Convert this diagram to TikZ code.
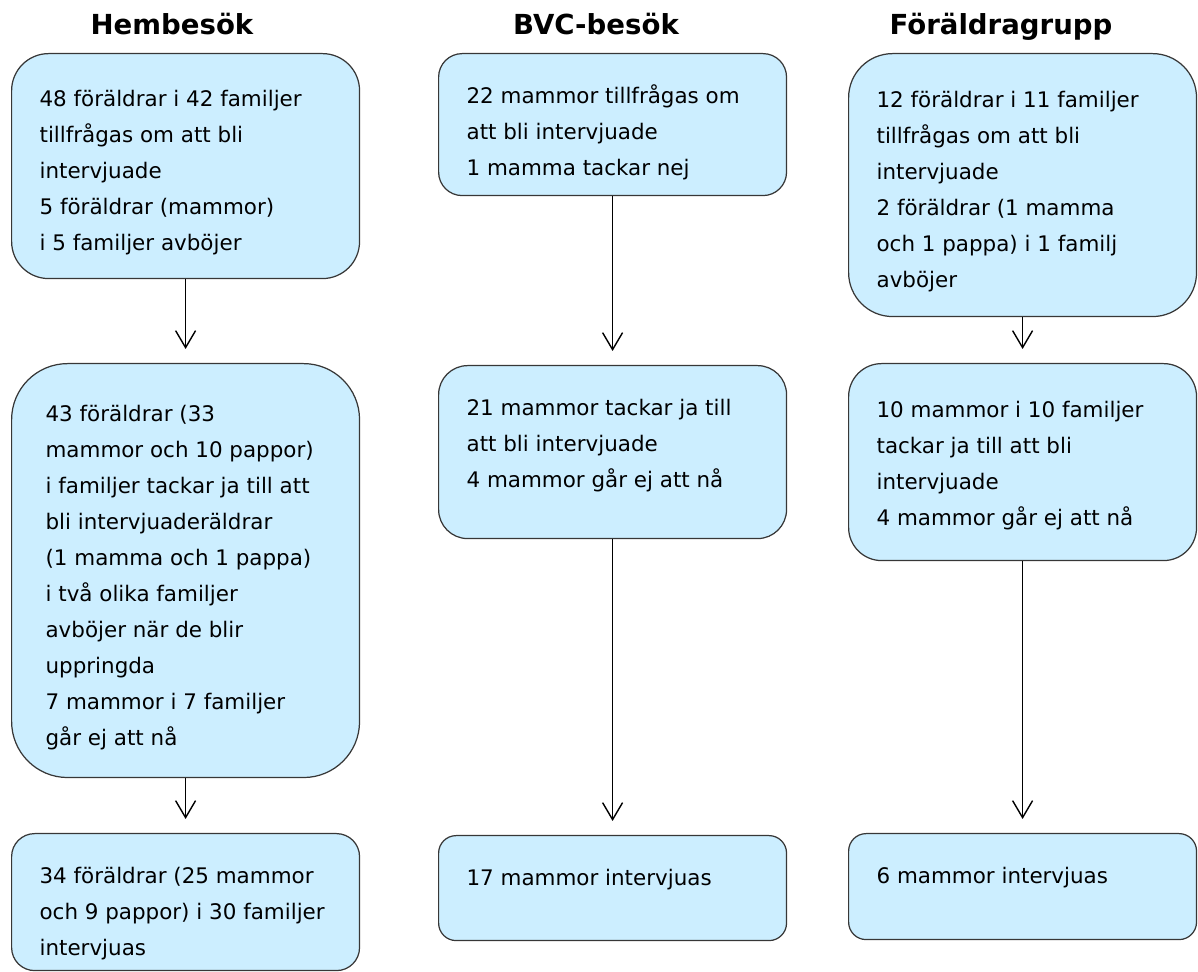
\documentclass[tikz,border=0pt]{standalone}
\usepackage{fontspec}
\setmainfont{DejaVu Sans}
\usetikzlibrary{arrows.meta}
\tikzset{
  stage/.style={draw=boxedge, fill=boxfill, line width=0.7pt, rounded corners=#1,
    anchor=north west, inner xsep=0.56cm, inner ysep=0.5cm,
    font=\fontsize{12.2pt}{20.5pt}\selectfont},
  head/.style={anchor=base, font=\fontsize{15.7pt}{19pt}\selectfont\bfseries},
  flow/.style={-{Straight Barb[length=3.4mm,width=4mm]}, line width=0.8pt, shorten >=0.28cm},
}
\definecolor{boxfill}{RGB}{204,238,255}
\definecolor{boxedge}{RGB}{55,55,55}
\newcommand{\stagetext}[3][0pt]{\parbox[t][#2][t]{5.84cm}{\raggedright\vspace*{#1}\strut#3}}

\begin{document}
\begin{tikzpicture}[x=0.02cm, y=-0.02cm]
  \useasboundingbox (0,0) rectangle (1198,972);
  % column titles
  \node[head] (t1) at (172,35) {Hembesök};
  \node[head] (t2) at (596,35) {BVC-besök};
  \node[head] (t3) at (1001,35) {Föräldragrupp};
  % Hembesök
  \node[stage=0.74cm] (h1) at (11,53) {\stagetext[0.06cm]{3.5cm}{48 föräldrar i 42 familjer\\
    tillfrågas om att bli\\ intervjuade\\ 5 föräldrar (mammor)\\ i 5 familjer avböjer}};
  \node[stage=1.12cm] (h2) at (11,363) {\stagetext[0.16cm]{7.28cm}{\hspace*{0.12cm}43 föräldrar (33\\
    \hspace*{0.12cm}mammor och 10 pappor)\\ \hspace*{0.12cm}i familjer tackar ja till att\\
    \hspace*{0.12cm}bli intervjuaderäldrar\\ \hspace*{0.12cm}(1 mamma och 1 pappa)\\
    \hspace*{0.12cm}i två olika familjer\\ \hspace*{0.12cm}avböjer när de blir\\
    \hspace*{0.12cm}uppringda\\ \hspace*{0.12cm}7 mammor i 7 familjer\\ \hspace*{0.12cm}går ej att nå}};
  \node[stage=0.46cm] (h3) at (11,833) {\stagetext{1.74cm}{34 föräldrar (25 mammor\\
    och 9 pappor) i 30 familjer\\ intervjuas}};
  % BVC-besök
  \node[stage=0.47cm] (b1) at (438,53) {\stagetext{1.84cm}{22 mammor tillfrågas om\\
    att bli intervjuade\\ 1 mamma tackar nej}};
  \node[stage=0.58cm] (b2) at (438,365) {\stagetext{2.46cm}{21 mammor tackar ja till\\
    att bli intervjuade\\ 4 mammor går ej att nå}};
  \node[stage=0.35cm] (b3) at (438,835) {\stagetext{1.1cm}{17 mammor intervjuas}};
  % Föräldragrupp
  \node[stage=0.88cm] (f1) at (848,53) {\stagetext[0.08cm]{4.26cm}{12 föräldrar i 11 familjer\\
    tillfrågas om att bli\\ intervjuade\\ 2 föräldrar (1 mamma\\ och 1 pappa) i 1 familj\\ avböjer}};
  \node[stage=0.66cm] (f2) at (848,363) {\stagetext[0.08cm]{2.94cm}{10 mammor i 10 familjer\\
    tackar ja till att bli\\ intervjuade\\ 4 mammor går ej att nå}};
  \node[stage=0.35cm] (f3) at (848,833) {\stagetext{1.12cm}{6 mammor intervjuas}};
  % arrows
  \foreach \a/\b in {h1/h2, h2/h3, b1/b2, b2/b3, f1/f2, f2/f3}
    \draw[flow] (\a) -- (\b);
\end{tikzpicture}
\end{document}
